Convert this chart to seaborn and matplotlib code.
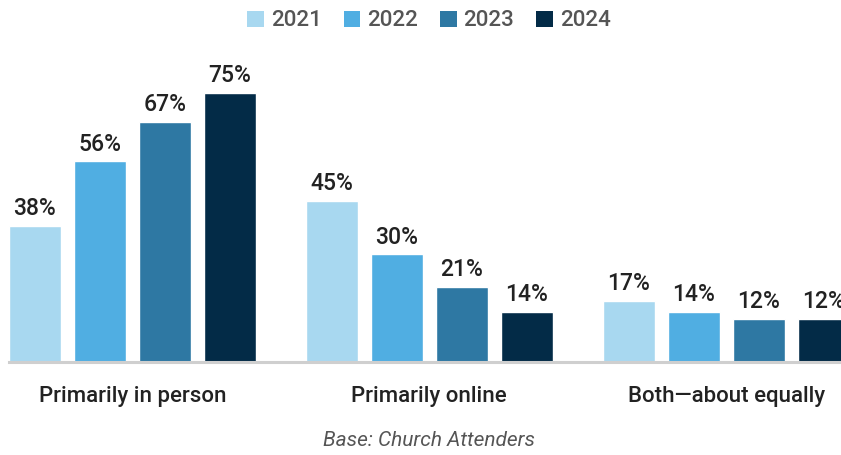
import numpy as np
import pandas as pd
import matplotlib.pyplot as plt
import seaborn as sns
from matplotlib.patches import Patch

# data
categories = ["Primarily in person", "Primarily online", "Both\u2014about equally"]
years = ["2021", "2022", "2023", "2024"]
v2021 = [38, 45, 17]
v2022 = [56, 30, 14]
v2023 = [67, 21, 12]
v2024 = [75, 14, 12]
colors = ["#A8D8F0", "#50AEE2", "#2E78A3", "#032B47"]

rows = []
for yr, vals in zip(years, [v2021, v2022, v2023, v2024]):
    for cat, v in zip(categories, vals):
        rows.append({"category": cat, "year": yr, "value": v})
df = pd.DataFrame(rows)

sns.set_style("white")
plt.rcParams["font.family"] = ["Roboto", "DejaVu Sans"]

W, H = 841, 455
fig = plt.figure(figsize=(W / 100, H / 100), dpi=100)
# axes from x=9 to 841 px, baseline at y=362, top at y=55
ax = fig.add_axes([9 / W, (H - 362) / H, (841 - 9) / W, (362 - 55) / H])

sns.barplot(data=df, x="category", y="value", hue="year", order=categories,
            hue_order=years, palette=colors, width=0.875, gap=0.2,
            saturation=1, ax=ax, legend=False)

for cont in ax.containers:
    ax.bar_label(cont, fmt="%d%%", padding=4, fontsize=16.5, fontweight="medium",
                 color="#222222")

ax.set_xlim(-0.4156, 2.387)
ax.set_ylim(0, 85.6)
ax.set_xlabel("")
ax.set_ylabel("")
ax.set_yticks([])
ax.tick_params(axis="x", length=0, pad=17, labelsize=16, labelcolor="#222222")
for lbl in ax.get_xticklabels():
    lbl.set_fontweight("medium")
for s in ["top", "left", "right"]:
    ax.spines[s].set_visible(False)
ax.spines["bottom"].set_color("#CFCFCF")
ax.spines["bottom"].set_linewidth(2.2)

# legend
handles = [Patch(facecolor=c, edgecolor="none") for c in colors]
fig.legend(handles, years, loc="center", bbox_to_anchor=(429 / W, 1 - 21 / H),
           ncol=4, frameon=False, prop={"size": 16, "weight": "medium"},
           labelcolor="#555555", handlelength=0.75, handleheight=0.75,
           handletextpad=0.3, columnspacing=1.0)

fig.text(429 / W, 1 - 440 / H, "Base: Church Attenders", ha="center", va="center",
         fontsize=15, style="italic", color="#555555")

fig.savefig("out.png", dpi=100)
